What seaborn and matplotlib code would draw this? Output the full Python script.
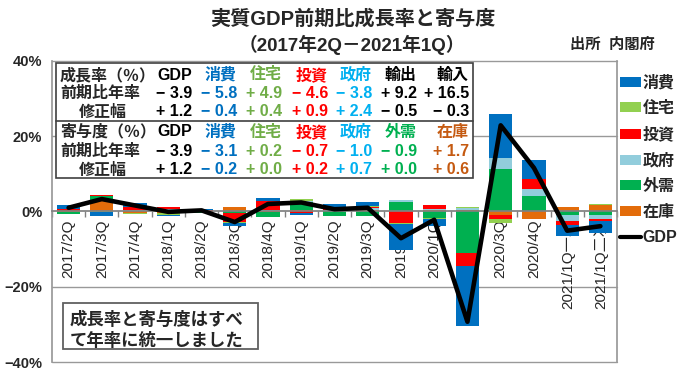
import numpy as np
import matplotlib
matplotlib.use("Agg")
import matplotlib.pyplot as plt
from matplotlib.patches import Rectangle, Patch
from matplotlib.lines import Line2D
import seaborn as sns

sns.set_theme(style="white")
plt.rcParams['font.family'] = ['Liberation Sans', 'Noto Sans CJK JP']
plt.rcParams['axes.unicode_minus'] = True

# データ (年率換算, %)
quarters = ['2017/2Q', '2017/3Q', '2017/4Q', '2018/1Q', '2018/2Q', '2018/3Q', '2018/4Q',
            '2019/1Q', '2019/2Q', '2019/3Q', '2019/4Q', '2020/1Q', '2020/2Q', '2020/3Q',
            '2020/4Q', '2021/1Q一次', '2021/1Q二次']
gdp = [1.0, 3.3, 1.6, -0.1, 0.3, -2.8, 2.0, 2.4, 0.6, 1.0, -7.1, -2.2, -29.3, 22.9, 11.6, -5.1, -3.9]
consumption = [1.0, -1.0, 0.9, -0.4, 0.4, -0.8, 0.7, -0.4, 1.0, 1.1, -6.8, -1.9, -16.0, 11.7, 5.0, -2.9, -3.1]
housing = [0.1, -0.1, -0.3, -0.3, -0.1, -0.1, 0.1, 0.4, 0.1, 0.1, -0.2, -0.3, 0.2, -0.9, 0.1, 0.2, 0.2]
investment = [0.5, 0.4, 1.0, 0.5, 0.2, -2.6, 2.4, -0.4, 0.3, 0.4, -3.1, 1.0, -3.3, -1.3, 2.6, -0.9, -0.7]
government = [0.1, 0.0, 0.1, 0.3, 0.1, 0.0, 0.4, 0.3, 0.3, 0.4, 0.5, 0.2, 0.6, 2.9, 2.0, -1.7, -1.0]
external = [-0.5, 1.3, 0.2, 0.4, -0.1, -0.3, -1.3, 2.2, -1.3, -1.3, 2.5, -1.6, -11.1, 11.2, 4.0, -0.9, -0.9]
inventory = [-0.1, 2.7, -0.3, -0.5, -0.2, 1.2, -0.1, 0.3, 0.2, 0.5, 0.0, 0.4, 0.3, -0.8, -2.1, 1.1, 1.7]

yticks = [-40, -20, 0, 20, 40]
ytick_labels = ['−40%', '−20%', '0%', '20%', '40%']

# 表のデータ
growth_cols = ['GDP', '消費', '住宅', '投資', '政府', '輸出', '輸入']
growth_rate = [-3.9, -5.8, 4.9, -4.6, -3.8, 9.2, 16.5]
growth_rev = [1.2, -0.4, 0.4, 0.9, 2.4, -0.5, -0.3]
contrib_cols = ['GDP', '消費', '住宅', '投資', '政府', '外需', '在庫']
contrib_rate = [-3.9, -3.1, 0.2, -0.7, -1.0, -0.9, 1.7]
contrib_rev = [1.2, -0.2, 0.0, 0.2, 0.7, 0.0, 0.6]

colors = {'消費': '#0070C0', '住宅': '#92D050', '投資': '#FF0000',
          '政府': '#92CDDC', '外需': '#00B050', '在庫': '#E36C0A'}
text_colors = {'GDP': 'black', '消費': '#0070C0', '住宅': '#70AD47', '投資': '#FF0000',
               '政府': '#00B0F0', '輸出': 'black', '輸入': 'black', '外需': '#00B050', '在庫': '#C55A11'}

W, H = 680, 382
fig = plt.figure(figsize=(W / 100, H / 100), dpi=100)
ax = fig.add_axes([52 / W, (H - 362) / H, 565 / W, 301 / H])

x = np.arange(len(quarters))

# 積み上げ棒 (ゼロから 在庫, 外需, 政府, 投資, 住宅, 消費 の順)
stack = [('在庫', inventory), ('外需', external), ('政府', government),
         ('投資', investment), ('住宅', housing), ('消費', consumption)]
pos_base = np.zeros(len(x))
neg_base = np.zeros(len(x))
for name, vals in stack:
    v = np.asarray(vals, dtype=float)
    base = np.where(v >= 0, pos_base, neg_base)
    ax.bar(x, v, width=0.7, bottom=base, color=colors[name], linewidth=0, zorder=2)
    pos_base += np.clip(v, 0, None)
    neg_base += np.clip(v, None, 0)

sns.lineplot(x=x, y=gdp, color='black', linewidth=3.3, sort=False, ax=ax, zorder=4, legend=False)

ax.set_xlim(-0.5, len(x) - 0.5)
ax.set_ylim(-40, 40)
for yv in [-40, -20, 20, 40]:
    ax.axhline(yv, color='#999999', lw=1, zorder=0, clip_on=False)

ax.set_yticks(yticks)
ax.set_yticklabels(ytick_labels, fontsize=10.5, fontweight='bold')
ax.tick_params(axis='y', length=0, pad=7)

ax.spines['bottom'].set_position(('data', 0))
ax.spines['bottom'].set_color('#808080')
ax.spines['bottom'].set_zorder(3)
ax.spines['left'].set_color('#999999')
ax.spines['right'].set_color('#999999')
ax.spines['top'].set_visible(False)
ax.set_xticks(x)
ax.set_xticklabels(quarters, rotation=90, fontsize=11, va='top', ha='center')
ax.set_xticks(np.arange(len(x) + 1) - 0.5, minor=True)
ax.tick_params(axis='x', which='major', length=0, pad=6)
ax.tick_params(axis='x', which='minor', length=4, color='#808080', width=1, direction='out', bottom=True)
ax.set_xlabel('')
ax.set_ylabel('')
ax.grid(False)

# 凡例
order = ['消費', '住宅', '投資', '政府', '外需', '在庫']
handles = [Patch(facecolor=colors[k], edgecolor='none') for k in order]
handles.append(Line2D([0], [0], color='black', lw=3))
fig.legend(handles, order + ['GDP'], loc='upper left', bbox_to_anchor=(620 / W, 1 - 75 / H),
           frameon=False, prop={'weight': 'bold', 'size': 11.5},
           handlelength=1.3, handleheight=0.6, handletextpad=0.1, labelspacing=0.66,
           borderpad=0, borderaxespad=0)


def put(px, py, s, **kw):
    kw.setdefault('zorder', 6)
    fig.text(px / W, 1 - py / H, s, **kw)


def signed(v):
    return ('+ ' if v >= 0 else '− ') + '{:.1f}'.format(abs(v))


# タイトル
put(353, 19, '実質GDP前期比成長率と寄与度', ha='center', va='center', fontsize=14.5, fontweight='bold')
put(352, 45, '（2017年2Q－2021年1Q）', ha='center', va='center', fontsize=13.5, fontweight='bold')
put(612, 45, '出所  内閣府', ha='center', va='center', fontsize=11, fontweight='bold')

# 表
fig.add_artist(Rectangle((56 / W, 1 - 178 / H), (473 - 56) / W, (178 - 63) / H,
                         transform=fig.transFigure, facecolor='white', edgecolor='#404040',
                         lw=1.2, zorder=5))
fig.add_artist(Line2D([56 / W, 473 / W], [1 - 121 / H, 1 - 121 / H],
                      transform=fig.transFigure, color='#404040', lw=1.2, zorder=5))

col_right = [192, 237, 282, 328, 372, 417, 469]
tkw = dict(va='center', fontsize=11.5, fontweight='bold')
blocks = [('成長率（％）', growth_cols, growth_rate, growth_rev, [75, 93, 112]),
          ('寄与度（％）', contrib_cols, contrib_rate, contrib_rev, [132, 151, 170])]
for head, cols, rate, rev, rows in blocks:
    put(60, rows[0], head, ha='left', **tkw)
    put(60, rows[1], '前期比年率', ha='left', **tkw)
    put(103, rows[2], '修正幅', ha='center', **tkw)
    for cx, name, r1, r2 in zip(col_right, cols, rate, rev):
        c = text_colors[name]
        put(cx, rows[0], name, ha='right', color=c, **tkw)
        put(cx, rows[1], signed(r1), ha='right', color=c, **tkw)
        put(cx, rows[2], signed(r2), ha='right', color=c, **tkw)

# 注記
fig.add_artist(Rectangle((63 / W, 1 - 349 / H), (258 - 63) / W, (349 - 303) / H,
                         transform=fig.transFigure, facecolor='white', edgecolor='#606060',
                         lw=1.3, zorder=5))
put(70, 319, '成長率と寄与度はすべ', ha='left', va='center', fontsize=12.5, fontweight='bold')
put(70, 340, 'て年率に統一しました', ha='left', va='center', fontsize=12.5, fontweight='bold')

fig.savefig('out.png', dpi=100, facecolor='white')
